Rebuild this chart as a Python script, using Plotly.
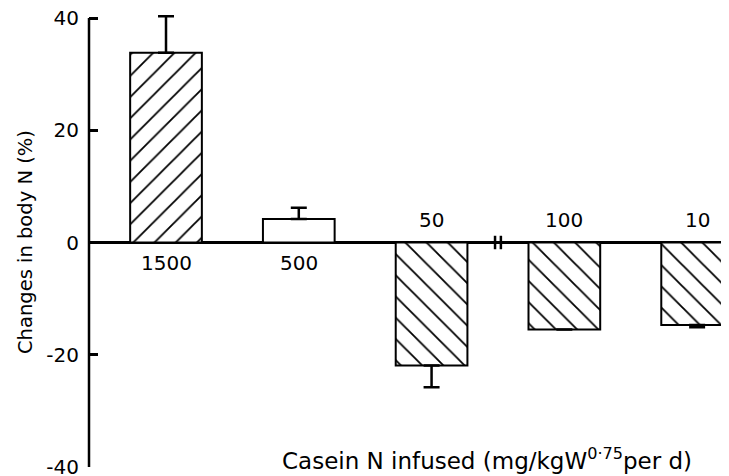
import plotly.graph_objects as go

categories = ["1500", "500", "50", "100", "10"]
values = [33.8, 4.2, -21.9, -15.5, -14.7]
err_up = [6.5, 2.0, 0.0, 0.0, 0.0]
err_down = [0.0, 0.0, 3.9, 0.0, 0.4]
patterns = ["/", "", "\\", "\\", "\\"]
tick_vals = [40, 20, 0, -20, -40]
tick_text = ["40", "20", "0", "-20", "-40"]

FONT = "DejaVu Sans"
# the page body adds an 8px offset; compensate in margins
L, W = 81, 640
Y_TOP = 41.25  # a little headroom so the top error cap is not clipped

fig = go.Figure()
fig.add_trace(go.Bar(
    x=list(range(len(categories))), y=values, width=0.54,
    cliponaxis=False,
    marker=dict(color="white", line=dict(color="black", width=2),
                pattern=dict(shape=patterns, fgcolor="black", bgcolor="white",
                             fgopacity=1, fillmode="replace",
                             size=15, solidity=0.12)),
    error_y=dict(type="data", symmetric=False, array=err_up, arrayminus=err_down,
                 color="black", thickness=2.5, width=8),
    showlegend=False,
))

for i, (c, v) in enumerate(zip(categories, values)):
    fig.add_annotation(x=i, y=0, text=c, showarrow=False,
                       yshift=-20 if v > 0 else 23,
                       font=dict(family=FONT, size=20, color="black"))

# y axis line from -40 to 40 only
fig.add_shape(type="line", xref="paper", yref="y", x0=0, x1=0,
              y0=tick_vals[-1], y1=tick_vals[0], line=dict(color="black", width=2.5))

# axis break mark between 50 and 100
for dx in (-0.022, 0.022):
    fig.add_shape(type="line", x0=2.5 + dx, x1=2.5 + dx, y0=-1.2, y1=1.2,
                  xref="x", yref="y", line=dict(color="black", width=2.5))

fig.add_annotation(text="Casein N infused (mg/kgW<sup>0·75</sup>per d)",
                   xref="paper", yref="y", x=(479 - L) / W, y=-38.6, showarrow=False,
                   font=dict(family=FONT, size=23, color="black"))

fig.add_annotation(text="Changes in body N (%)", textangle=-90,
                   xref="paper", yref="y", x=(4 - L) / W, y=0, showarrow=False,
                   font=dict(family=FONT, size=19.5, color="black"))

fig.update_layout(
    width=729, height=476,
    margin=dict(l=L, r=8, t=3, b=17, autoexpand=False),
    plot_bgcolor="white", paper_bgcolor="white",
    font=dict(family=FONT, color="black"),
)
fig.update_xaxes(range=[-0.58, 4.24], visible=False)
fig.update_yaxes(range=[-40, Y_TOP], tickvals=tick_vals, ticktext=tick_text,
                 automargin=False, ticklabeloverflow="allow",
                 showline=False,
                 ticks="inside", ticklen=9, tickwidth=2.5, tickcolor="black",
                 ticklabelstandoff=9,
                 showgrid=False, zeroline=True, zerolinecolor="black", zerolinewidth=2.5,
                 tickfont=dict(family=FONT, size=20, color="black"))

fig.write_html("out.html")
